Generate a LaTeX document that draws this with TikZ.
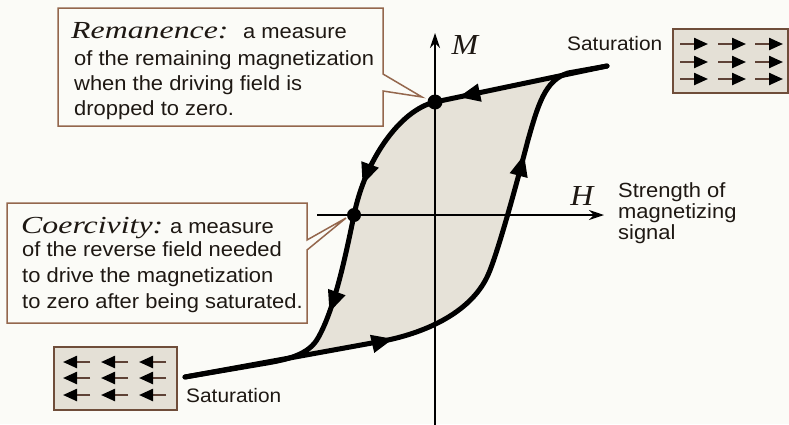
\documentclass[tikz,border=0pt]{standalone}
\usepackage{fontspec}
\setmainfont{Liberation Sans}
\newfontfamily\bodyfont{Liberation Sans}[FakeStretch=1.07]
\newfontfamily\termfont{Liberation Serif}[FakeStretch=1.3]
\newfontfamily\axisfont{Liberation Serif}[FakeStretch=1.1]
\usetikzlibrary{arrows.meta,decorations.markings}
\definecolor{bg}{HTML}{FBFBF7}
\definecolor{loopfill}{HTML}{E6E2D8}
\definecolor{ink}{HTML}{1E1813}
\definecolor{boxline}{HTML}{94674D}
\definecolor{satfill}{HTML}{E4E0D6}
\definecolor{satarr}{HTML}{5E4236}
\tikzset{
  txt/.style={font={\bodyfont\fontsize{20.5}{25}\selectfont}, text=ink, inner sep=0pt, anchor=base west},
  sattxt/.style={font={\bodyfont\fontsize{19.5}{24}\selectfont}, text=ink, inner sep=0pt, anchor=base west},
  term/.style={font={\termfont\itshape\fontsize{24.5}{25}\selectfont}, text=ink, inner sep=0pt, anchor=base west},
  axlabel/.style={font={\axisfont\itshape\fontsize{29}{30}\selectfont}, text=ink, inner sep=0pt},
  callout/.style={draw=boxline, line width=1.5pt, line join=miter},
  area/.style={inner sep=0pt, outer sep=0pt},
  axisline/.style={draw=black, line width=1.4pt, -{Stealth[length=15pt,width=10pt]}},
  curve/.style={draw=black, line width=5pt, line cap=round, line join=round},
  dot/.style={circle, fill=black, inner sep=0pt},
  satbox/.style={draw=boxline!75!black, fill=satfill, line width=1.7pt, inner sep=0pt},
  satarrow/.style={draw=satarr, line width=2.3pt, -{Triangle[length=14pt,width=12pt,color=black]}}
}
\newcommand{\looptip}{\arrow{Triangle[length=22pt,width=17pt]}}
\begin{document}
\begin{tikzpicture}[x=1pt,y=-1pt]
\path[fill=bg] (0,0) rectangle (789,424);
\useasboundingbox (0,0) rectangle (789,424);

% loop area
\fill[loopfill] (568,73) -- (435,102) .. controls (400,110) and (365,160) .. (354,215)
  .. controls (345,259) and (334,310) .. (318,338)
  .. controls (309,354) and (290,359) .. (267,363) -- (383,341)
  .. controls (420,334) and (470,315) .. (488,275)
  .. controls (497,255) and (515,190) .. (528,140)
  .. controls (538,105) and (545,80) .. (568,73) -- cycle;

% axes
\coordinate (Mbot) at (435,426);
\coordinate (Mtop) at (435,33);
\coordinate (Hleft) at (317,215);
\coordinate (Hright) at (604,215);
\draw[axisline] (Mbot) -- (Mtop);
\draw[axisline] (Hleft) -- (Hright);
\node[axlabel] (Mlab) at (465,45) {M};
\node[axlabel] (Hlab) at (582,196) {H};

% hysteresis curve
\draw[curve, postaction={decorate}, decoration={markings,
    mark=at position 152pt with {\looptip},
    mark=at position 290pt with {\looptip},
    mark=at position 422pt with {\looptip}}]
  (607,66) -- (435,102) .. controls (400,110) and (365,160) .. (354,215)
  .. controls (345,259) and (334,310) .. (318,338)
  .. controls (309,354) and (290,359) .. (267,363) -- (185,377);
\draw[curve, postaction={decorate}, decoration={markings,
    mark=at position 212pt with {\looptip},
    mark=at position 456pt with {\looptip}}]
  (185,377) -- (383,341)
  .. controls (420,334) and (470,315) .. (488,275)
  .. controls (497,255) and (515,190) .. (528,140)
  .. controls (538,105) and (545,80) .. (568,73) -- (607,66);

\node[dot, minimum size=15pt] (remdot) at (435,102) {};
\node[dot, minimum size=14pt] (coedot) at (354,215) {};

% Remanence callout
\node[area, minimum width=325pt, minimum height=118pt, anchor=north west] (rembox) at (58,8) {};
\coordinate (remA) at (383,74);
\coordinate (remB) at (383,91);
\coordinate (remtip) at (422,97);
\draw[callout] (rembox.north east) -- (remA) -- (remtip) -- (remB) -- (rembox.south east)
  -- (rembox.south west) -- (rembox.north west) -- cycle;
\node[term] (remterm) at (71,38) {Remanence:};
\node[txt] (rem1) at (243,38) {a measure};
\node[txt] (rem2) at (74,65) {of the remaining magnetization};
\node[txt] (rem3) at (74,90) {when the driving field is};
\node[txt] (rem4) at (74,115) {dropped to zero.};

% Coercivity callout
\node[area, minimum width=300pt, minimum height=120pt, anchor=north west] (coebox) at (7,203) {};
\coordinate (coeA) at (307,240);
\coordinate (coeB) at (307,250);
\coordinate (coetip) at (346,218);
\draw[callout] (coebox.north east) -- (coeA) -- (coetip) -- (coeB) -- (coebox.south east)
  -- (coebox.south west) -- (coebox.north west) -- cycle;
\node[term] (coeterm) at (21,233) {Coercivity:};
\node[txt] (coe1) at (170,233) {a measure};
\node[txt] (coe2) at (22,256) {of the reverse field needed};
\node[txt] (coe3) at (22,282) {to drive the magnetization};
\node[txt] (coe4) at (22,308) {to zero after being saturated.};

% H axis description
\node[txt] (str1) at (618,197) {Strength of};
\node[txt] (str2) at (618,218) {magnetizing};
\node[txt] (str3) at (618,239) {signal};

% saturation boxes
\node[sattxt] (sattop) at (567,50) {Saturation};
\node[satbox, minimum width=115pt, minimum height=64pt, anchor=north west] (satboxtop) at (672,28) {};
\foreach \y in {44,62,79} {
  \foreach \x in {680,718,755} {
    \draw[satarrow] (\x,\y) -- (\x+28,\y);
  }
}
\node[sattxt] (satbot) at (186,402) {Saturation};
\node[satbox, minimum width=123pt, minimum height=63pt, anchor=north west] (satboxbot) at (53,346) {};
\foreach \y in {362,378,395} {
  \foreach \x in {90,128,166} {
    \draw[satarrow] (\x,\y) -- (\x-27,\y);
  }
}
\end{tikzpicture}
\end{document}
